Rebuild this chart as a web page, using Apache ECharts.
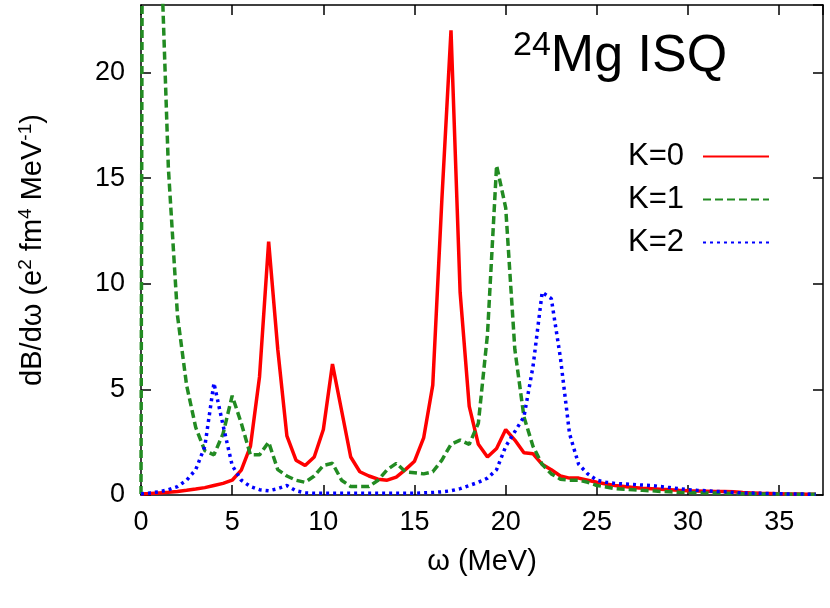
<!DOCTYPE html>
<html><head><meta charset="utf-8">
<script src="https://cdn.jsdelivr.net/npm/echarts@6/dist/echarts.min.js"></script>
<style>html,body{margin:0;padding:0;background:#fff}#c{width:830px;height:608px}</style>
</head><body><div id="c"></div>
<script>
const omega = [];
for (let i = 0; i <= 74; i++) omega.push(i * 0.5);
const k0 = [0.05,0.07,0.1,0.13,0.17,0.22,0.28,0.35,0.45,0.55,0.7,1.18,2.3,5.6,12.0,6.9,2.8,1.65,1.4,1.8,3.1,6.2,4.0,1.8,1.1,0.9,0.75,0.7,0.85,1.2,1.6,2.7,5.2,14.0,22.0,9.6,4.2,2.4,1.8,2.2,3.1,2.6,2.0,1.95,1.45,1.2,0.9,0.8,0.8,0.7,0.6,0.52,0.45,0.4,0.35,0.32,0.3,0.27,0.25,0.22,0.2,0.19,0.18,0.17,0.17,0.15,0.12,0.1,0.08,0.07,0.06,0.05,0.05,0.04,0.04];
const k1 = [0.05,200,28.3,15.5,8.5,5.2,3.2,2.1,1.9,2.9,4.7,3.4,1.9,1.9,2.5,1.2,0.9,0.7,0.6,0.9,1.4,1.5,0.7,0.4,0.4,0.4,0.7,1.2,1.5,1.1,1.05,1.0,1.1,1.65,2.4,2.6,2.4,3.4,7.6,15.6,13.6,6.9,3.7,2.3,1.45,1.0,0.75,0.7,0.7,0.6,0.45,0.38,0.3,0.27,0.25,0.22,0.2,0.17,0.15,0.13,0.12,0.11,0.1,0.09,0.08,0.07,0.06,0.06,0.05,0.05,0.05,0.04,0.04,0.04,0.04];
const k2 = [0.05,0.1,0.15,0.25,0.4,0.7,1.2,2.3,5.3,3.3,1.4,0.7,0.4,0.25,0.2,0.3,0.45,0.2,0.1,0.08,0.08,0.08,0.08,0.08,0.08,0.08,0.08,0.08,0.08,0.08,0.08,0.1,0.12,0.15,0.2,0.3,0.45,0.6,0.8,1.2,2.3,3.0,3.7,6.1,9.6,9.3,6.5,2.9,1.45,1.0,0.7,0.6,0.55,0.52,0.5,0.47,0.45,0.4,0.35,0.3,0.25,0.22,0.2,0.17,0.15,0.12,0.1,0.09,0.08,0.07,0.06,0.05,0.05,0.04,0.04];
const seriesNames = ['K=0','K=1','K=2'];
const colors = ['#ff0000','#228b22','#0000ff'];
const types = ['solid',[8,4],[3,4]];
const F = '"Liberation Sans", Helvetica, Arial, sans-serif';
const pair = a => omega.map((x,i)=>[x,a[i]]);
const chart = echarts.init(document.getElementById('c'));
const axX = (show) => ({type:'value',min:0,max:37.4,interval:5,
  axisLine:{show:true,onZero:false,lineStyle:{color:'#000',width:1.5}},
  axisTick:{show:true,inside:true,length:10,lineStyle:{color:'#000',width:1.5}},
  axisLabel:{show:show,color:'#000',fontSize:27,fontFamily:F,margin:14,showMaxLabel:false},splitLine:{show:false}});
const axY = (show) => ({type:'value',min:0,max:23.2,interval:5,
  axisLine:{show:true,onZero:false,lineStyle:{color:'#000',width:1.5}},
  axisTick:{show:true,inside:true,length:10,lineStyle:{color:'#000',width:1.5}},
  axisLabel:{show:show,color:'#000',fontSize:27,fontFamily:F,margin:16,showMaxLabel:false},splitLine:{show:false}});
chart.setOption({
  animation:false,
  grid:{left:141,right:7,top:5,bottom:113},
  xAxis:[Object.assign(axX(true),{position:'bottom',name:'ω (MeV)',nameLocation:'middle',nameGap:52,nameTextStyle:{color:'#000',fontSize:29,fontFamily:F}}),
         Object.assign(axX(false),{position:'top'})],
  yAxis:[Object.assign(axY(true),{position:'left',name:'{n|dB/dω (e}{s|2}{n| fm}{s|4}{n| MeV}{s|-1}{n|)}',nameLocation:'middle',nameGap:92,
           nameTextStyle:{rich:{n:{fontSize:29,fontFamily:F,color:'#000'},s:{fontSize:19,fontFamily:F,color:'#000',verticalAlign:'top',padding:[0,0,14,0]}}}}),
         Object.assign(axY(false),{position:'right'})],
  legend:{right:55,top:136,orient:'vertical',align:'right',itemWidth:66,itemHeight:14,itemGap:12,
    itemStyle:{opacity:0},
    textStyle:{fontSize:31,fontFamily:F,color:'#000',padding:[0,14,0,0]},data:seriesNames},
  title:{text:'{s|24}{m|Mg ISQ}',left:508,top:24,textStyle:{fontWeight:'normal',rich:{s:{fontSize:34,fontWeight:'normal',fontFamily:F,color:'#000',verticalAlign:'top',padding:[0,0,22,0]},m:{fontSize:52,fontWeight:'normal',fontFamily:F,color:'#000'}}}},
  series:[0,1,2].map(i=>({name:seriesNames[i],type:'line',data:pair([k0,k1,k2][i]),symbol:'none',clip:true,
    lineStyle:{color:colors[i],width:3.5,type:types[i]},itemStyle:{color:colors[i]}}))
});
</script></body></html>
